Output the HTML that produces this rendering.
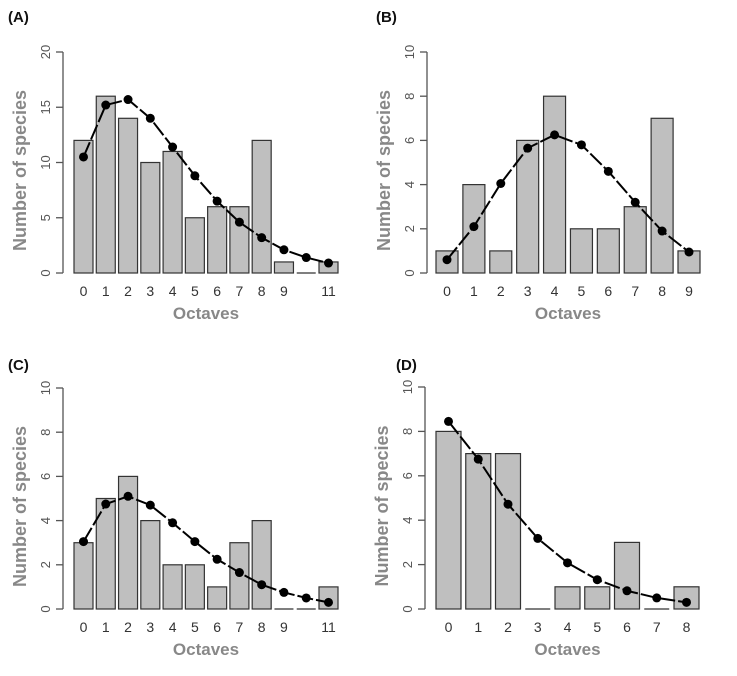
<!DOCTYPE html>
<html><head><meta charset="utf-8"><style>
html,body{margin:0;padding:0;background:#fff;}
svg{display:block;font-family:"Liberation Sans",sans-serif;}
</style></head><body>
<svg id="fig" width="737" height="676" viewBox="0 0 737 676"></svg>
<script>
const aCats=["0","1","2","3","4","5","6","7","8","9","","11"];
const aBars=[12,16,14,10,11,5,6,6,12,1,0,1];
const aLine=[10.5,15.2,15.7,14,11.4,8.8,6.5,4.6,3.2,2.1,1.4,0.9];
const aTicks=[0,5,10,15,20];
const bCats=["0","1","2","3","4","5","6","7","8","9"];
const bBars=[1,4,1,6,8,2,2,3,7,1];
const bLine=[0.6,2.1,4.05,5.65,6.25,5.8,4.6,3.2,1.9,0.95];
const bTicks=[0,2,4,6,8,10];
const cCats=["0","1","2","3","4","5","6","7","8","9","","11"];
const cBars=[3,5,6,4,2,2,1,3,4,0,0,1];
const cLine=[3.05,4.75,5.1,4.7,3.9,3.05,2.25,1.65,1.1,0.75,0.5,0.3];
const cTicks=[0,2,4,6,8,10];
const dCats=["0","1","2","3","4","5","6","7","8"];
const dBars=[8,7,7,0,1,1,3,0,1];
const dLine=[8.45,6.75,4.72,3.18,2.08,1.32,0.82,0.5,0.3];
const dTicks=[0,2,4,6,8,10];

const NS="http://www.w3.org/2000/svg";
const svg=document.getElementById('fig');
function mk(tag,attrs,parent,text){const e=document.createElementNS(NS,tag);for(const k in attrs)e.setAttribute(k,attrs[k]);if(text!==undefined)e.textContent=text;(parent||svg).appendChild(e);return e;}

function panel(id,label,cats,bars,line,ticks,g){
  const grp=mk('g',{});
  
  
  const ymax=ticks[ticks.length-1];
  const yS=v=>g.y0-(v/ymax)*(g.y0-g.y1);
  const n=cats.length;
  const pitch=(g.xLast-g.xFirst)/(n-1);
  const xS=i=>g.xFirst+i*pitch;
  const bw=g.bw;
  const t=mk('text',{x:g.lx,y:g.ly,'font-size':15,'font-weight':'bold',fill:'#111'},grp,label);
  
  
  const ax=mk('line',{x1:g.ax,x2:g.ax,y1:yS(0),y2:yS(ymax),stroke:'#555','stroke-width':1.3},grp);
  
  
  ticks.forEach(v=>{
    const y=yS(v);
    mk('line',{x1:g.ax-7,x2:g.ax,y1:y,y2:y,stroke:'#555','stroke-width':1.3},grp);
    const tl=mk('text',{x:g.ax-13,y:y,'font-size':13,fill:'#555','text-anchor':'middle',transform:`rotate(-90 ${g.ax-13} ${y})`},grp,String(v));
    
    
  });
  const yt=mk('text',{x:g.ax-37,y:(g.y0+g.y1)/2+8,'font-size':18,'font-weight':'bold',fill:'#888','text-anchor':'middle',transform:`rotate(-90 ${g.ax-37} ${(g.y0+g.y1)/2+8})`},grp,'Number of species');
  
  
  bars.forEach((v,i)=>{
    const x=xS(i);
    if(v>0){
      const r=mk('rect',{x:x,y:yS(v),width:bw,height:yS(0)-yS(v),fill:'#bfbfbf',stroke:'#333','stroke-width':1.2},grp);
      
      
    } else {
      const r=mk('line',{x1:x,x2:x+bw,y1:yS(0),y2:yS(0),stroke:'#333','stroke-width':1.2},grp);
      
      
    }
    const tl=mk('text',{x:x+bw/2,y:yS(0)+23,'font-size':14,fill:'#333','text-anchor':'middle'},grp,cats[i]);
    
    
  });
  const xt=mk('text',{x:(xS(0)+xS(n-1)+bw)/2,y:yS(0)+46,'font-size':17,'font-weight':'bold',fill:'#888','text-anchor':'middle'},grp,'Octaves');
  
  
  const pts=line.map((v,i)=>(xS(i)+bw/2)+','+yS(v)).join(' ');
  const pl=mk('polyline',{points:pts,fill:'none',stroke:'#000','stroke-width':2,'stroke-dasharray':'16 3'},grp);
  
  
  line.forEach((v,i)=>{
    const c=mk('circle',{cx:xS(i)+bw/2,cy:yS(v),r:4.5,fill:'#000'},grp);
    
    
  });
}
panel('a','(A)',aCats,aBars,aLine,aTicks,{ax:63,y0:273,y1:52,xFirst:74,xLast:319,bw:19,lx:8,ly:22});
panel('b','(B)',bCats,bBars,bLine,bTicks,{ax:427,y0:273,y1:52,xFirst:436,xLast:678,bw:22,lx:376,ly:22});
panel('c','(C)',cCats,cBars,cLine,cTicks,{ax:63,y0:609,y1:388,xFirst:74,xLast:319,bw:19,lx:8,ly:370});
panel('d','(D)',dCats,dBars,dLine,dTicks,{ax:425,y0:609,y1:387,xFirst:436,xLast:674,bw:25,lx:396,ly:370});
</script>
</body></html>
